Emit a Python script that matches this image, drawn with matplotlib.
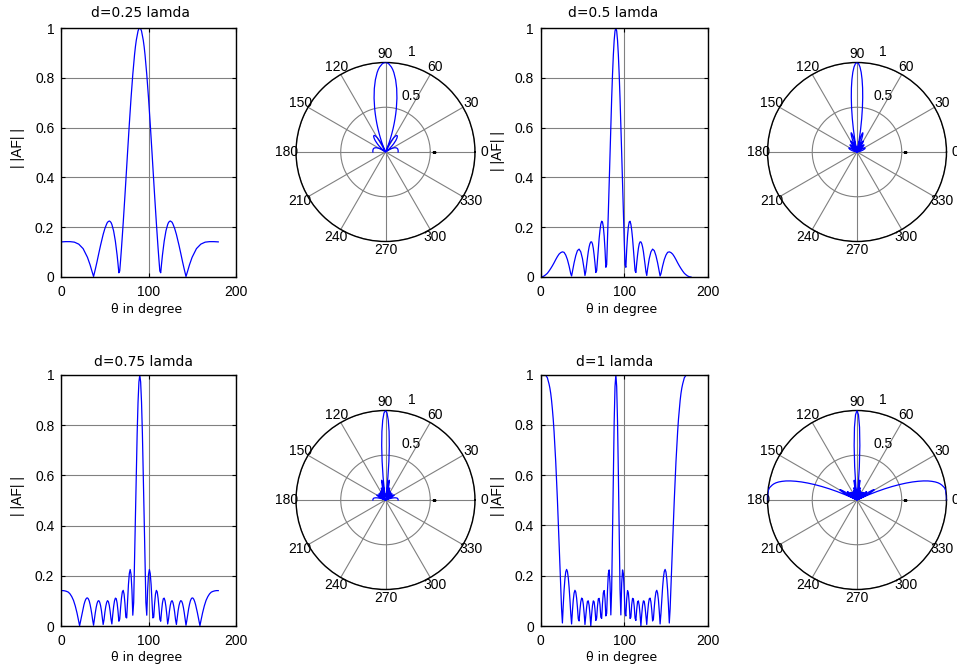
import matplotlib
matplotlib.use("Agg")
import matplotlib.pyplot as plt
import numpy as np

plt.rcParams['font.family'] = ['Liberation Sans', 'DejaVu Sans']

# |AF| of a 10 element broadside array
theta_a = [0, 5, 10, 15, 20, 25, 30, 33, 35, 37, 39, 41, 43, 45, 48, 50, 52, 53, 55, 56, 57, 58, 60, 62, 64, 65,
           66, 67, 68, 69, 70, 71, 72, 73, 74, 75, 76, 78, 80, 82, 84, 85, 86, 88, 89, 90,
           91, 92, 94, 95, 96, 98, 100, 102, 104, 105, 106, 107, 108, 109, 110, 111, 112, 113, 114,
           115, 116, 118, 120, 122, 123, 124, 125, 127, 128, 130, 132, 135, 137, 139, 141, 143, 145,
           147, 150, 155, 160, 165, 170, 175, 180]
af_a = [0.141, 0.142, 0.142, 0.140, 0.132, 0.114, 0.079, 0.049, 0.025, 0.002, 0.031, 0.062, 0.095, 0.127,
        0.171, 0.195, 0.213, 0.220, 0.225, 0.223, 0.219, 0.211, 0.185, 0.144, 0.088, 0.054,
        0.017, 0.024, 0.068, 0.115, 0.166, 0.218, 0.273, 0.328, 0.385, 0.443, 0.501, 0.614, 0.720, 0.814,
        0.893, 0.925, 0.951, 0.988, 0.997, 1.000,
        0.997, 0.988, 0.951, 0.925, 0.893, 0.814, 0.720, 0.614, 0.501, 0.443, 0.385, 0.328, 0.273, 0.218,
        0.166, 0.115, 0.068, 0.024, 0.017,
        0.054, 0.088, 0.144, 0.185, 0.211, 0.219, 0.223, 0.225, 0.220, 0.213, 0.195, 0.171, 0.127, 0.095,
        0.062, 0.031, 0.002, 0.025, 0.049, 0.079, 0.114, 0.132, 0.140, 0.142, 0.142, 0.141]

theta_b = [0, 2, 4, 6, 8, 10, 12, 14, 16, 18, 20, 22, 24, 26, 28, 30, 32, 34, 36, 37, 38, 40, 42, 44, 46, 48,
           50, 52, 53, 54, 55, 56, 57, 58, 59, 60, 61, 62, 63, 64, 65, 66, 67, 68, 69, 70, 71, 72, 73, 74,
           75, 76, 77, 78, 79, 80, 81, 82, 83, 84, 85, 86, 87, 88, 89, 90,
           91, 92, 93, 94, 95, 96, 97, 98, 99, 100, 101, 102, 103, 104, 105, 106, 107, 108, 109, 110,
           111, 112, 113, 114, 115, 116, 117, 118, 119, 120, 121, 122, 123, 124, 125, 126, 127, 128,
           130, 132, 134, 136, 138, 140, 142, 143, 144, 146, 148, 150, 152, 154, 156, 158, 160, 162,
           164, 166, 168, 170, 172, 174, 176, 178, 180]
af_b = [0.000, 0.001, 0.004, 0.009, 0.015, 0.024, 0.034, 0.045, 0.057, 0.070, 0.082, 0.092, 0.098, 0.101,
        0.099, 0.088, 0.070, 0.044, 0.013, 0.004, 0.022, 0.057, 0.086, 0.106, 0.112, 0.101,
        0.074, 0.032, 0.006, 0.022, 0.050, 0.077, 0.102, 0.121, 0.134, 0.141, 0.141, 0.133, 0.115, 0.088,
        0.056, 0.018, 0.025, 0.070, 0.115, 0.155, 0.188, 0.212, 0.224, 0.221,
        0.202, 0.165, 0.111, 0.039, 0.049, 0.150, 0.260, 0.377, 0.495, 0.610, 0.718, 0.813, 0.892, 0.951,
        0.988, 1.000,
        0.988, 0.951, 0.892, 0.813, 0.718, 0.610, 0.495, 0.377, 0.260, 0.150, 0.049, 0.039, 0.111, 0.165,
        0.202, 0.221, 0.224, 0.212, 0.188, 0.155,
        0.115, 0.070, 0.025, 0.018, 0.056, 0.088, 0.115, 0.133, 0.141, 0.141, 0.134, 0.121, 0.102, 0.077,
        0.050, 0.022, 0.006, 0.032,
        0.074, 0.101, 0.112, 0.106, 0.086, 0.057, 0.022, 0.004, 0.013, 0.044, 0.070, 0.088, 0.099, 0.101,
        0.098, 0.092, 0.082, 0.070,
        0.057, 0.045, 0.034, 0.024, 0.015, 0.009, 0.004, 0.001, 0.000]

theta_c = [0, 2, 4, 6, 8, 10, 12, 14, 16, 18, 20, 21, 22, 23, 24, 25, 26, 27, 28, 29, 30, 31, 32, 33, 34, 35,
           36, 37, 38, 39, 40, 41, 42, 43, 44, 45, 46, 47, 48, 49, 50, 51, 52, 53, 54, 55, 56, 57, 58, 59,
           60, 61, 62, 63, 64, 65, 66, 67, 68, 69, 70, 71, 72, 73, 74, 75, 76, 77, 78, 79, 80, 81, 82, 83,
           84, 85, 86, 87, 88, 89, 90,
           91, 92, 93, 94, 95, 96, 97, 98, 99, 100, 101, 102, 103, 104, 105, 106, 107, 108, 109, 110,
           111, 112, 113, 114, 115, 116, 117, 118, 119, 120, 121, 122, 123, 124, 125, 126, 127, 128,
           129, 130, 131, 132, 133, 134, 135, 136, 137, 138, 139, 140, 141, 142, 143, 144, 145, 146,
           147, 148, 149, 150, 151, 152, 153, 154, 155, 156, 157, 158, 159, 160, 162, 164, 166, 168,
           170, 172, 174, 176, 178, 180]
af_c = [0.141, 0.141, 0.140, 0.138, 0.135, 0.128, 0.117, 0.102, 0.080, 0.052, 0.019, 0.001, 0.018, 0.036,
        0.054, 0.070, 0.085, 0.097, 0.106, 0.111, 0.112, 0.108, 0.100, 0.086, 0.068, 0.047,
        0.023, 0.003, 0.029, 0.053, 0.074, 0.090, 0.099, 0.101, 0.095, 0.082, 0.062, 0.035, 0.006, 0.025,
        0.055, 0.078, 0.094, 0.101, 0.097, 0.083, 0.059, 0.028, 0.008, 0.045,
        0.077, 0.100, 0.111, 0.109, 0.092, 0.060, 0.019, 0.027, 0.073, 0.111, 0.136, 0.142, 0.127, 0.089,
        0.035, 0.032, 0.102, 0.165, 0.209, 0.225, 0.205, 0.143, 0.043, 0.094,
        0.258, 0.434, 0.609, 0.767, 0.892, 0.972, 1.000,
        0.972, 0.892, 0.767, 0.609, 0.434, 0.258, 0.094, 0.043, 0.143, 0.205, 0.225, 0.209, 0.165, 0.102,
        0.032, 0.035, 0.089, 0.127, 0.142, 0.136,
        0.111, 0.073, 0.027, 0.019, 0.060, 0.092, 0.109, 0.111, 0.100, 0.077, 0.045, 0.008, 0.028, 0.059,
        0.083, 0.097, 0.101, 0.094,
        0.078, 0.055, 0.025, 0.006, 0.035, 0.062, 0.082, 0.095, 0.101, 0.099, 0.090, 0.074, 0.053, 0.029,
        0.003, 0.023, 0.047, 0.068,
        0.086, 0.100, 0.108, 0.112, 0.111, 0.106, 0.097, 0.085, 0.070, 0.054, 0.036, 0.018, 0.001, 0.019,
        0.052, 0.080, 0.102, 0.117,
        0.128, 0.135, 0.138, 0.140, 0.141, 0.141]

theta_d = [0, 2, 4, 6, 8, 10, 11, 12, 13, 14, 15, 16, 17, 18, 19, 20, 21, 22, 23, 24, 25, 26, 27, 28, 29, 30,
           31, 32, 33, 34, 35, 36, 37, 38, 39, 40, 41, 42, 43, 44, 45, 46, 47, 48, 49, 50, 51, 52, 53, 54,
           55, 56, 57, 58, 59, 60, 61, 62, 63, 64, 65, 66, 67, 68, 69, 70, 71, 72, 73, 74, 75, 76, 77, 78,
           79, 80, 81, 82, 83, 84, 85, 86, 87, 88, 89, 90,
           91, 92, 93, 94, 95, 96, 97, 98, 99, 100, 101, 102, 103, 104, 105, 106, 107, 108, 109, 110,
           111, 112, 113, 114, 115, 116, 117, 118, 119, 120, 121, 122, 123, 124, 125, 126, 127, 128,
           129, 130, 131, 132, 133, 134, 135, 136, 137, 138, 139, 140, 141, 142, 143, 144, 145, 146,
           147, 148, 149, 150, 151, 152, 153, 154, 155, 156, 157, 158, 159, 160, 161, 162, 163, 164,
           165, 166, 167, 168, 169, 170, 172, 174, 176, 178, 180]
af_d = [1.000, 1.000, 0.999, 0.997, 0.987, 0.962, 0.946, 0.925, 0.897, 0.862, 0.822, 0.773, 0.716, 0.653,
        0.581, 0.503, 0.420, 0.333, 0.243, 0.153, 0.068, 0.012, 0.083, 0.143, 0.187, 0.215,
        0.225, 0.217, 0.193, 0.154, 0.105, 0.049, 0.008, 0.059, 0.103, 0.131, 0.142, 0.135, 0.111, 0.074,
        0.028, 0.020, 0.064, 0.096, 0.111, 0.108, 0.087, 0.051, 0.006, 0.039,
        0.075, 0.098, 0.100, 0.082, 0.046, 0.000, 0.046, 0.081, 0.100, 0.096, 0.067, 0.022, 0.031, 0.078,
        0.108, 0.110, 0.085, 0.035, 0.030, 0.090, 0.132, 0.141, 0.108, 0.040,
        0.050, 0.141, 0.208, 0.223, 0.170, 0.044, 0.146, 0.374, 0.609, 0.813, 0.952, 1.000,
        0.952, 0.813, 0.609, 0.374, 0.146, 0.044, 0.170, 0.223, 0.208, 0.141, 0.050, 0.040, 0.108, 0.141,
        0.132, 0.090, 0.030, 0.035, 0.085, 0.110,
        0.108, 0.078, 0.031, 0.022, 0.067, 0.096, 0.100, 0.081, 0.046, 0.000, 0.046, 0.082, 0.100, 0.098,
        0.075, 0.039, 0.006, 0.051,
        0.087, 0.108, 0.111, 0.096, 0.064, 0.020, 0.028, 0.074, 0.111, 0.135, 0.142, 0.131, 0.103, 0.059,
        0.008, 0.049, 0.105, 0.154,
        0.193, 0.217, 0.225, 0.215, 0.187, 0.143, 0.083, 0.012, 0.068, 0.153, 0.243, 0.333, 0.420, 0.503,
        0.581, 0.653, 0.716, 0.773,
        0.822, 0.862, 0.897, 0.925, 0.946, 0.962, 0.987, 0.997, 0.999, 1.000, 1.000]

titles = ['d=0.25 lamda', 'd=0.5 lamda', 'd=0.75 lamda', 'd=1 lamda']
x_ticks = [0, 100, 200]
y_ticks = [0, 0.2, 0.4, 0.6, 0.8, 1]
y_ticklabels = ['0', '0.2', '0.4', '0.6', '0.8', '1']
polar_angles = [0, 30, 60, 90, 120, 150, 180, 210, 240, 270, 300, 330]

W, H = 957, 672
BLUE = '#0000ff'
GRAY = '#808080'
TITLE_FONT = 'DejaVu Sans'

fig = plt.figure(figsize=(W / 100, H / 100), dpi=100)


def pixel_rect(x0, y0, x1, y1):
    return [x0 / W, 1 - y1 / H, (x1 - x0) / W, (y1 - y0) / H]


def draw_cartesian(box, th, af, title, title_xy, xlabel_xy, ylabel_xy):
    ax = fig.add_axes(pixel_rect(*box))
    ax.plot(th, af, color=BLUE, lw=0.9)
    ax.set_xlim(0, 200)
    ax.set_ylim(0, 1)
    ax.set_xticks(x_ticks)
    ax.set_yticks(y_ticks)
    ax.set_yticklabels(y_ticklabels)
    ax.grid(True, color=GRAY, lw=0.8)
    ax.tick_params(direction='in', top=True, right=True, length=3, width=0.8,
                   labelsize=10, colors='black')
    ax.tick_params(axis='x', pad=5.5)
    ax.tick_params(axis='y', pad=5)
    for s in ax.spines.values():
        s.set_linewidth(1.0)
    fig.text(title_xy[0] / W, 1 - title_xy[1] / H, title, family=TITLE_FONT,
             fontsize=10, ha='center', va='center')
    fig.text(xlabel_xy[0] / W, 1 - xlabel_xy[1] / H, 'θ in degree', family=TITLE_FONT,
             fontsize=9, ha='center', va='center')
    fig.text(ylabel_xy[0] / W, 1 - ylabel_xy[1] / H, '| |AF| |', fontsize=10,
             rotation=90, ha='center', va='center')
    return ax


def draw_polar(cx, cy, th, af, radius=89.5):
    ax = fig.add_axes(pixel_rect(cx - radius, cy - radius, cx + radius, cy + radius),
                      projection='polar')
    ax.plot(np.radians(th), af, color=BLUE, lw=0.9, zorder=4)
    ax.set_ylim(0, 1)
    ax.set_thetagrids(polar_angles, labels=[''] * len(polar_angles))
    ax.set_rgrids([0.5, 1.0], labels=['', ''])
    ax.grid(True, color=GRAY, lw=0.8, ls='-')
    ax.tick_params(size=0)
    ax.spines['polar'].set_color('black')
    ax.spines['polar'].set_linewidth(1.0)
    for a in polar_angles:
        ax.text(np.radians(a), 1.1, str(a), fontsize=10, ha='center', va='center')
    ax.text(np.radians(71.9), 0.58, '0.5', fontsize=10, ha='left', va='bottom')
    ax.text(np.radians(76.5), 1.07, '1', fontsize=10, ha='left', va='bottom')
    ax.plot([0], [0.54], marker='_', color='black', ms=3, zorder=5)
    return ax


draw_cartesian((61.3, 28, 235.7, 277), theta_a, af_a, titles[0], (140.6, 13), (146.4, 310), (18, 148))
draw_polar(385.5, 152, theta_a, af_a)
draw_cartesian((540.7, 28, 707.7, 277), theta_b, af_b, titles[1], (613, 13), (621.7, 310), (498, 151))
draw_polar(857, 152, theta_b, af_b)
draw_cartesian((61.3, 375, 235.7, 626), theta_c, af_c, titles[2], (144, 361.5), (146.4, 658), (18, 496))
draw_polar(385.5, 500, theta_c, af_c)
draw_cartesian((540.7, 374.5, 707.7, 626), theta_d, af_d, titles[3], (615, 361.5), (621.7, 658), (498, 496))
draw_polar(857, 500, theta_d, af_d)

fig.savefig('out.png', dpi=100)
